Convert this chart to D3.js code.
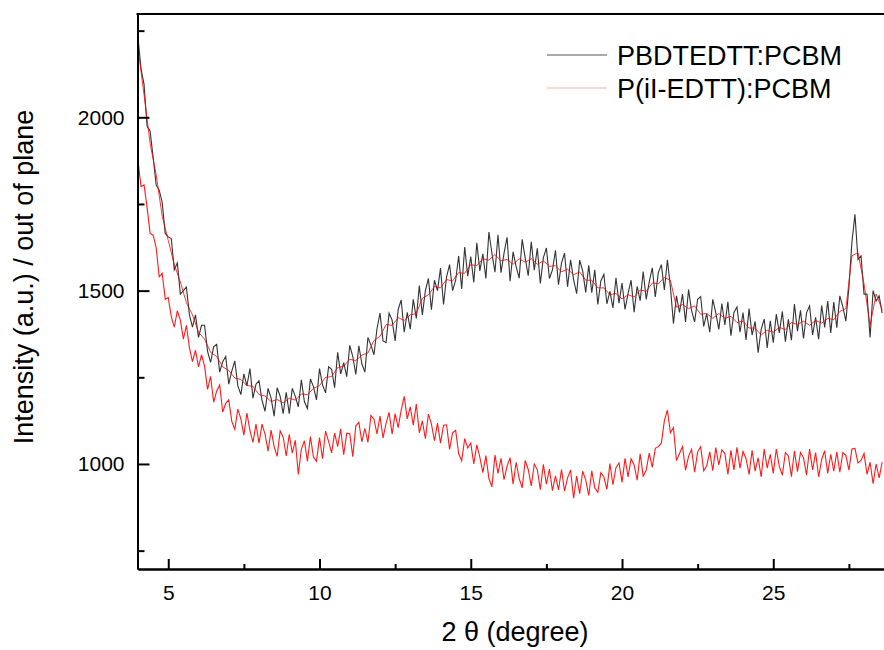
<!DOCTYPE html>
<html>
<head>
<meta charset="utf-8">
<script src="https://cdn.jsdelivr.net/npm/d3@7"></script>
<style>
  body { margin: 0; background: #fff; }
  text { font-family: "Liberation Sans", Arial, sans-serif; fill: #000; }
</style>
</head>
<body>
<div id="chart"></div>
<script>
// 2-theta grid of the scans (degrees)
const scanStart = 4.0, scanStep = 0.1;
const smoothStep = 0.2;

// PBDTEDTT:PCBM, out of plane intensity
const pbdtedtt = [
  2230,2140,2095,1975,1960,1885,1805,1790,1755,1665,
  1655,1650,1560,1580,1490,1500,1510,1430,1395,1430,
  1365,1400,1400,1325,1293,1338,1345,1265,1295,1310,
  1230,1268,1297,1226,1200,1260,1225,1275,1190,1230,
  1240,1183,1152,1218,1190,1138,1220,1195,1145,1207,
  1145,1218,1195,1165,1243,1180,1160,1245,1223,1185,
  1275,1228,1205,1280,1273,1220,1322,1260,1292,1252,
  1342,1310,1258,1341,1289,1265,1365,1343,1315,1390,
  1435,1355,1350,1435,1415,1355,1445,1473,1380,1437,
  1389,1475,1420,1515,1430,1500,1535,1445,1530,1500,
  1565,1460,1540,1575,1500,1530,1600,1505,1626,1542,
  1598,1524,1638,1557,1606,1535,1669,1607,1553,1661,
  1552,1608,1654,1527,1612,1569,1536,1648,1594,1543,
  1641,1559,1622,1521,1595,1623,1535,1560,1616,1517,
  1580,1608,1511,1589,1532,1491,1588,1557,1495,1573,
  1494,1560,1460,1528,1547,1462,1498,1450,1537,1464,
  1522,1446,1492,1530,1438,1512,1471,1555,1475,1525,
  1566,1482,1552,1575,1502,1589,1510,1405,1485,1437,
  1490,1410,1503,1442,1410,1475,1483,1397,1433,1380,
  1475,1436,1388,1463,1401,1468,1370,1437,1453,1380,
  1437,1358,1448,1372,1411,1321,1388,1418,1335,1413,
  1350,1432,1378,1440,1353,1417,1357,1461,1383,1443,
  1362,1436,1456,1372,1423,1360,1457,1394,1470,1378,
  1467,1393,1485,1453,1412,1510,1640,1720,1590,1600,
  1490,1490,1365,1500,1470,1485,1435
];

// P(iI-EDTT):PCBM, out of plane intensity
const piiedtt = [
  1875,1800,1805,1740,1665,1660,1625,1540,1550,1475,
  1480,1425,1395,1442,1415,1360,1400,1335,1295,1328,
  1280,1315,1282,1215,1253,1178,1210,1228,1150,1175,
  1185,1123,1100,1158,1130,1083,1147,1097,1062,1115,
  1060,1115,1086,1037,1098,1050,1022,1095,1077,1023,
  1085,1031,1068,970,1043,1067,1008,1079,1020,1008,
  1076,1015,1095,1065,1032,1089,1050,1101,1027,1089,
  1087,1021,1110,1120,1064,1103,1062,1140,1129,1087,
  1138,1075,1117,1149,1086,1145,1105,1155,1195,1130,
  1165,1112,1173,1090,1124,1073,1144,1115,1067,1118,
  1060,1112,1113,1042,1090,1097,1030,1009,1073,1046,
  1060,1000,1055,1020,975,1024,958,934,1026,973,
  1016,955,994,1018,942,1005,958,931,1010,984,
  937,1000,983,926,999,942,985,923,966,925,
  984,922,960,983,901,965,914,979,954,909,
  980,931,918,975,963,927,1001,940,989,1003,
  947,1016,963,1015,997,953,1029,965,982,1031,
  990,1045,1050,1060,1125,1155,1090,1105,1010,1030,
  1050,982,1022,1042,976,1035,1050,980,995,1035,
  981,1047,997,1041,1030,970,1039,983,1048,988,
  1036,1015,970,1039,979,1018,963,1043,988,1028,
  973,1043,993,968,1033,1023,963,1038,978,1033,
  1018,968,1043,983,1033,963,1013,1038,973,1028,
  979,1035,976,1033,1025,982,1043,1045,1003,1010,
  1030,970,1005,943,1000,960,1005
];

// smoothed PBDTEDTT:PCBM trace (red, drawn over the black scan)
const pbdtedttSmooth = [
  2200,2065,1925,1835,1715,1645,1575,1525,1465,1430,
  1380,1360,1322,1310,1280,1270,1248,1244,1226,1224,
  1200,1196,1180,1186,1176,1190,1184,1202,1200,1218,
  1226,1250,1252,1278,1282,1302,1298,1314,1320,1356,
  1368,1402,1400,1422,1414,1430,1434,1478,1488,1512,
  1508,1532,1528,1552,1550,1575,1572,1592,1588,1604,
  1586,1590,1576,1592,1582,1592,1576,1586,1570,1572,
  1554,1562,1546,1554,1530,1530,1508,1508,1488,1492,
  1476,1488,1482,1502,1498,1522,1520,1538,1530,1452,
  1460,1448,1456,1432,1434,1420,1434,1420,1426,1408,
  1412,1392,1392,1372,1386,1380,1394,1388,1408,1402,
  1412,1400,1414,1406,1420,1416,1440,1448,1600,1610,
  1520,1400,1490,1445
];

// axis ticks
const xMajor = [5, 10, 15, 20, 25];
const xMinor = [7.5, 12.5, 17.5, 22.5, 27.5];
const yMajor = [1000, 1500, 2000];
const yMinor = [750, 1250, 1750, 2250];

const seriesNames = ["PBDTEDTT:PCBM", "P(iI-EDTT):PCBM"];

const width = 884, height = 650;
const svg = d3.select("#chart").append("svg")
    .attr("width", width)
    .attr("height", height);

const x = d3.scaleLinear().domain([4, 28.7]).range([138, 885.2]);
const y = d3.scaleLinear().domain([697, 2298]).range([569, 14]);

const toPoints = (vals, step) => vals.map((v, i) => [scanStart + i * step, v]);

svg.append("clipPath").attr("id", "plot")
  .append("rect")
    .attr("x", 138).attr("y", 14)
    .attr("width", 750).attr("height", 555);

const line = d3.line().x(d => x(d[0])).y(d => y(d[1]));

const g = svg.append("g").attr("clip-path", "url(#plot)");

g.append("path")
    .datum(toPoints(pbdtedtt, scanStep))
    .attr("d", line)
    .attr("fill", "none")
    .attr("stroke", "#000")
    .attr("stroke-opacity", 0.8)
    .attr("stroke-width", 1.1);

g.append("path")
    .datum(toPoints(piiedtt, scanStep))
    .attr("d", line)
    .attr("fill", "none")
    .attr("stroke", "#ff0000")
    .attr("stroke-opacity", 0.9)
    .attr("stroke-width", 1.1);

g.append("path")
    .datum(toPoints(pbdtedttSmooth, smoothStep))
    .attr("d", line)
    .attr("fill", "none")
    .attr("stroke", "#ff0000")
    .attr("stroke-width", 0.8);

// axes, ticks pointing inward
svg.append("g")
    .attr("transform", "translate(0,569)")
    .call(d3.axisBottom(x).tickValues(xMajor).tickSizeInner(-10).tickSizeOuter(0).tickPadding(16)
      .tickFormat(d3.format("d")));
svg.append("g")
    .attr("transform", "translate(0,569)")
    .call(d3.axisBottom(x).tickValues(xMinor).tickSizeInner(-5).tickSizeOuter(0).tickFormat(""));

svg.append("g")
    .attr("transform", "translate(137.5,0)")
    .call(d3.axisLeft(y).tickValues(yMajor).tickSizeInner(-12).tickSizeOuter(0).tickPadding(13)
      .tickFormat(d3.format("d")));
svg.append("g")
    .attr("transform", "translate(137.5,0)")
    .call(d3.axisLeft(y).tickValues(yMinor).tickSizeInner(-7).tickSizeOuter(0).tickFormat(""));

svg.selectAll(".domain").attr("stroke", "#000").attr("stroke-width", 2);
svg.selectAll(".tick line").attr("stroke", "#000").attr("stroke-width", 2);
svg.selectAll(".tick text")
    .style("font-family", "'Liberation Sans', Arial, sans-serif")
    .style("font-size", "21px");

// top frame
svg.append("line")
    .attr("x1", 136.5).attr("x2", 884)
    .attr("y1", 14).attr("y2", 14)
    .attr("stroke", "#000").attr("stroke-width", 2);

// axis titles
svg.append("text")
    .attr("x", 515).attr("y", 641)
    .attr("text-anchor", "middle")
    .style("font-size", "27px")
    .text("2 θ (degree)");

svg.append("text")
    .attr("transform", "translate(33,277) rotate(-90)")
    .attr("text-anchor", "middle")
    .style("font-size", "27px")
    .text("Intensity (a.u.) / out of plane");

// legend
const legendColors = ["#555", "#ffb0b0"];
seriesNames.forEach((name, i) => {
  const ly = 55 + i * 33;
  svg.append("line")
      .attr("x1", 547).attr("x2", 607)
      .attr("y1", ly).attr("y2", ly)
      .attr("stroke", legendColors[i]).attr("stroke-width", 1.2);
  svg.append("text")
      .attr("x", 617).attr("y", ly + 10)
      .style("font-size", "27px")
      .text(name);
});
</script>
</body>
</html>
